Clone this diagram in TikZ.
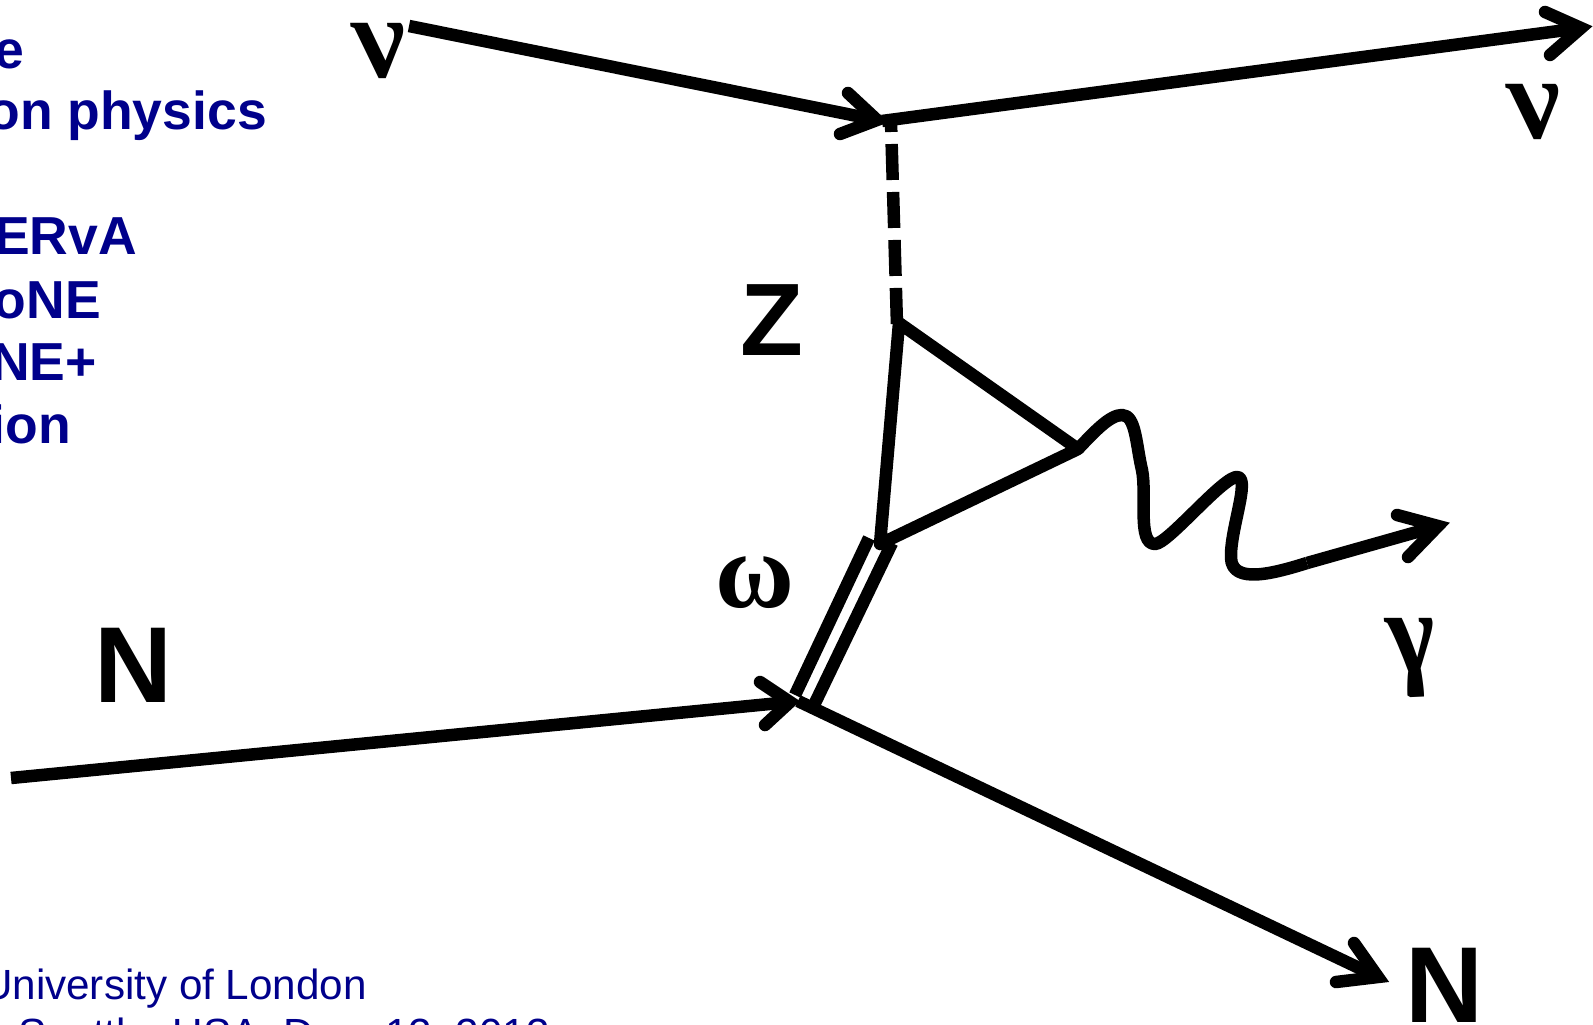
\documentclass[tikz,border=0pt]{standalone}
\usepackage{fontspec}
\setmainfont{Liberation Sans}
\newfontfamily\serifgreek{Liberation Serif}
\definecolor{navytext}{RGB}{0,0,139}
\tikzset{
  fermion/.style={line width=12.5pt,line cap=butt,line join=miter},
  barb/.style={line width=12.5pt,line cap=round,line join=miter,miter limit=10},
  head/.style={text=navytext,font=\bfseries\fontsize{53.5}{53.5}\selectfont,anchor=base east,inner sep=0pt},
  foot/.style={text=navytext,font=\fontsize{42.2}{42.2}\selectfont,anchor=base east,inner sep=0pt},
  biglabel/.style={inner sep=0pt,font=\bfseries\fontsize{108}{108}\selectfont},
  greeklabel/.style={inner sep=0pt,font=\serifgreek\bfseries\itshape\fontsize{118}{118}\selectfont,xslant=-0.25},
  omegalabel/.style={inner sep=0pt,font=\serifgreek\bfseries\fontsize{108}{108}\selectfont},
}
\begin{document}
\begin{tikzpicture}[x=1pt,y=-1pt]
\useasboundingbox (0,0) rectangle (1593,1025);
\clip (0,0) rectangle (1593,1025);
% vertices
\coordinate (nuin) at (409,26);
\coordinate (vz) at (877,120);
\coordinate (vy) at (882,121);
\coordinate (nuout) at (1581,28);
\coordinate (zfoot) at (891,122);
\coordinate (zend) at (897,325);
\coordinate (tt) at (899,323);
\coordinate (tr) at (1078,449);
\coordinate (tb) at (880,544);
\coordinate (wl1) at (869,538);
\coordinate (wl2) at (795,695);
\coordinate (wr1) at (892,543);
\coordinate (wr2) at (815,703);
\coordinate (nin) at (11,778);
\coordinate (vb) at (790,702);
\coordinate (vn) at (798,701);
\coordinate (nout) at (1378,977);
\coordinate (b1a) at (848,93);
\coordinate (b1b) at (840,134);
\coordinate (b2a) at (1545,12);
\coordinate (b2b) at (1550,55);
\coordinate (b3a) at (760,682);
\coordinate (b3b) at (765,725);
\coordinate (b4a) at (1354,943);
\coordinate (b4b) at (1336,982);
\coordinate (gtip) at (1438,526);
\coordinate (g1) at (1397,515);
\coordinate (g2) at (1408,557);
\coordinate (gs) at (1307,563);
% lines
\draw[fermion] (nuin) -- (vz);
\draw[fermion] (vy) -- (nuout);
\draw[fermion,dash pattern=on 36pt off 12pt,dash phase=26pt] (zfoot) -- (zend);
\draw[fermion,line join=round] (tb) -- (tt) -- (tr) -- cycle;
\draw[fermion] (wl1) -- (wl2);
\draw[fermion] (wr1) -- (wr2);
\draw[fermion] (nin) -- (vb);
\draw[fermion] (vn) -- (nout);
% photon
\draw[fermion,line join=round] (tr)
  .. controls (1095,431) and (1110,415) .. (1122,415)
  .. controls (1136,415) and (1136,445) .. (1142,470)
  .. controls (1147,495) and (1137,544) .. (1155,544)
  .. controls (1168,544) and (1225,474) .. (1238,477)
  .. controls (1250,480) and (1230,530) .. (1231,558)
  .. controls (1232,585) and (1275,573) .. (gs);
\draw[fermion] (gs) -- (gtip);
% arrowheads
\draw[barb] (b1a) -- (vz) -- (b1b);
\draw[barb] (b2a) -- (nuout) -- (b2b);
\draw[barb] (b3a) -- (vb) -- (b3b);
\draw[barb] (b4a) -- (nout) -- (b4b);
\draw[barb] (g1) -- (gtip) -- (g2);
% labels
\node[greeklabel] (nu1) at (382,51) {ν};
\node[greeklabel] (nu2) at (1537,112) {ν};
\node[biglabel,font=\bfseries\fontsize{103}{103}\selectfont] (zl) at (772,320) {Z};
\node[biglabel] (n1) at (133,665) {N};
\node[biglabel] (n2) at (1444,985) {N};
\node[omegalabel] (om) at (755,583) {ω};
\node[greeklabel] (ga) at (1417,658) {γ};
% cropped slide text
\node[head] (t1) at (24,69) {e};
\node[head] (t2) at (267,129) {on physics};
\node[head] (t3) at (137,254) {ERvA};
\node[head] (t4) at (101,318) {oNE};
\node[head] (t5) at (97,380) {NE+};
\node[head] (t6) at (71,443) {ion};
\node[foot] (f1) at (367,999) {University of London};
\node[foot] (f2) at (550,1048) {Seattle, USA, Dec. 12, 2013};
\end{tikzpicture}
\end{document}
